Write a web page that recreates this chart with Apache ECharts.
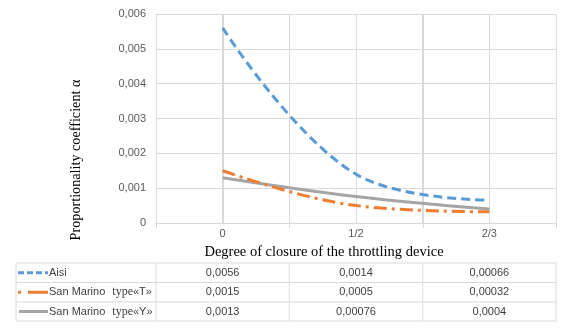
<!DOCTYPE html>
<html><head><meta charset="utf-8">
<script src="https://cdn.jsdelivr.net/npm/echarts@6/dist/echarts.min.js"></script>
<style>html,body{margin:0;padding:0;background:#fff}#c{width:568px;height:333px}</style>
</head><body><div id="c"></div>
<script>
// ---- data ----
const categories = ['0', '1/2', '2/3'];
const seriesNames = ['Aisi', 'San Marino type«T»', 'San Marino type«Y»'];
const aisi = [0.0056, 0.0014, 0.00066];
const typeT = [0.0015, 0.0005, 0.00032];
const typeY = [0.0013, 0.00076, 0.0004];
const yTickLabels = ['0', '0,001', '0,002', '0,003', '0,004', '0,005', '0,006'];
const xTitle = 'Degree of closure of the throttling device';
const yTitle = 'Proportionality coefficient α';

const allValues = [aisi, typeT, typeY];
const colors = ['#5B9BD5', '#ED7D31', '#A5A5A5'];
const dashes = [[9, 5], [13, 5, 3, 5], null];
const fmt = v => String(v).replace('.', ',');

const GRID_TOP = 14, GRID_BOTTOM_PX = 333 - 110;
const chart = echarts.init(document.getElementById('c'), null, {renderer: 'canvas'});
const catIdx = categories.map((c, i) => i);

chart.setOption({
  animation: false,
  backgroundColor: '#fff',
  grid: {left: 156, right: 12, top: GRID_TOP, bottom: 110, containLabel: false},
  xAxis: {
    type: 'value', min: -0.5, max: 2.5, interval: 0.5,
    axisLine: {show: true, lineStyle: {color: '#d9d9d9'}},
    axisTick: {show: false},
    axisLabel: {
      customValues: catIdx,
      formatter: v => categories[Math.round(v)] || '',
      color: '#595959', fontFamily: 'Liberation Sans', fontSize: 11, margin: 5
    },
    splitLine: {show: true, lineStyle: {color: '#d9d9d9', width: 1}}
  },
  yAxis: {
    type: 'value', min: 0, max: 0.006, interval: 0.001,
    axisLine: {show: false}, axisTick: {show: false},
    axisLabel: {
      formatter: (v) => yTickLabels[Math.round(v / 0.001)],
      color: '#595959', fontFamily: 'Liberation Sans', fontSize: 11, margin: 10
    },
    splitLine: {show: true, lineStyle: {color: '#d9d9d9', width: 1}}
  },
  series: allValues.map((vals, s) => ({
    type: 'line', name: seriesNames[s], smooth: 0.4, symbol: 'none',
    data: vals.map((v, i) => [i, v]),
    lineStyle: {color: colors[s], width: 3, type: dashes[s] || 'solid', cap: 'butt'},
    z: 5 - s
  }))
});

// ---- gridlines/ticks, axis titles and data table (x positions from the axis scale) ----
const xOf = v => chart.convertToPixel({xAxisIndex: 0}, v);
const left = 16;
const bounds = [-0.5, 0.5, 1.5, 2.5].map(xOf);
const rowTops = [263, 282.5, 302, 321];
const gcol = '#d9d9d9';
const g = [];
// vertical gridlines at every half step (category centres and boundaries)
[-0.5, 0, 0.5, 1, 1.5, 2, 2.5].forEach(v => {
  const x = Math.round(xOf(v)) + 0.5;
  g.push({type: 'line', z: -1, shape: {x1: x, y1: GRID_TOP, x2: x, y2: GRID_BOTTOM_PX}, style: {stroke: gcol, lineWidth: 1}});
});
// tick marks at category boundaries
bounds.forEach(b => {
  const x = Math.round(b) + 0.5;
  g.push({type: 'line', shape: {x1: x, y1: GRID_BOTTOM_PX, x2: x, y2: GRID_BOTTOM_PX + 5}, style: {stroke: gcol, lineWidth: 1}});
});
g.push({type: 'text', x: 324, y: 252, style: {text: xTitle, font: '14.5px "Liberation Serif"', fill: '#000', align: 'center', verticalAlign: 'middle'}});
g.push({type: 'text', x: 76, y: 160, rotation: Math.PI / 2, style: {text: yTitle, font: '14.2px "Liberation Serif"', fill: '#000', align: 'center', verticalAlign: 'middle'}});
rowTops.forEach(y => g.push({type: 'line', shape: {x1: left, y1: y, x2: bounds[3], y2: y}, style: {stroke: gcol, lineWidth: 1}}));
[left].concat(bounds).forEach(x => g.push({type: 'line', shape: {x1: x, y1: rowTops[0], x2: x, y2: rowTops[3]}, style: {stroke: gcol, lineWidth: 1}}));
allValues.forEach((vals, s) => {
  const yc = (rowTops[s] + rowTops[s + 1]) / 2;
  vals.forEach((v, i) => {
    g.push({type: 'text', x: xOf(i), y: yc, style: {text: fmt(v), fill: '#404040', font: '11px "Liberation Sans"', align: 'center', verticalAlign: 'middle'}});
  });
  // legend key
  if (s === 0) {
    g.push({type: 'line', shape: {x1: 18, y1: yc, x2: 48, y2: yc}, style: {stroke: colors[s], lineWidth: 3, lineDash: [6, 3]}});
  } else if (s === 1) {
    g.push({type: 'line', shape: {x1: 18, y1: yc, x2: 21, y2: yc}, style: {stroke: colors[s], lineWidth: 3}});
    g.push({type: 'line', shape: {x1: 28, y1: yc, x2: 48, y2: yc}, style: {stroke: colors[s], lineWidth: 3}});
  } else {
    g.push({type: 'line', shape: {x1: 19, y1: yc, x2: 48, y2: yc}, style: {stroke: colors[s], lineWidth: 3}});
  }
  const name = seriesNames[s].replace('type', '{s|type}');
  g.push({type: 'text', x: 49, y: yc, style: {
    text: name, fill: '#404040', font: '11px "Liberation Sans"', verticalAlign: 'middle', align: 'left',
    rich: {s: {fontFamily: 'Liberation Serif', fontSize: 12, fill: '#404040', padding: [0, 0, 0, 4]}}
  }});
});
chart.setOption({graphic: {elements: g}});
</script>
</body></html>
